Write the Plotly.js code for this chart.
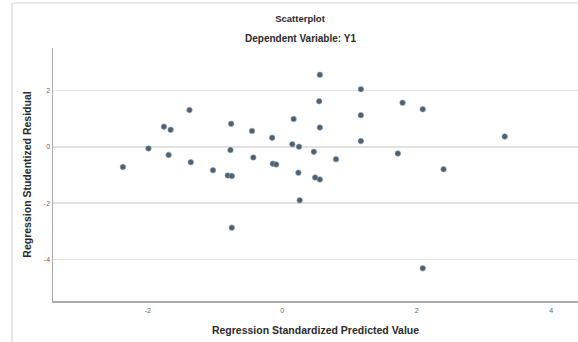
<!DOCTYPE html>
<html>
<head>
<meta charset="utf-8">
<script src="https://cdn.plot.ly/plotly-3.0.1.min.js"></script>
<style>html,body{margin:0;padding:0;background:#fff;}#chart{width:578px;height:342px;}</style>
</head>
<body>
<div id="chart"></div>
<script>
// Regression Standardized Predicted Value
var predicted = [-2.37, -1.99, -1.76, -1.66, -1.69, -1.38, -1.36, -1.03, -0.81, -0.75,
                 -0.76, -0.77, -0.75, -0.45, -0.43, -0.15, -0.14, -0.09, 0.17, 0.15,
                 0.25, 0.24, 0.26, 0.47, 0.49, 0.56, 0.56, 0.55, 0.56, 0.80,
                 1.17, 1.17, 1.17, 1.72, 1.79, 2.09, 2.09, 2.40, 3.31];
// Regression Studentized Residual
var residual = [-0.72, -0.06, 0.71, 0.60, -0.29, 1.30, -0.55, -0.83, -1.02, -1.04,
                0.81, -0.12, -2.87, 0.56, -0.38, 0.32, -0.60, -0.63, 0.98, 0.09,
                0.00, -0.92, -1.90, -0.18, -1.09, -1.16, 2.55, 1.61, 0.68, -0.44,
                2.04, 1.12, 0.20, -0.24, 1.56, 1.33, -4.31, -0.80, 0.36];
var xTicks = [-2, 0, 2, 4];
var yTicks = [-4, -2, 0, 2];

var trace = {
  type: 'scatter', mode: 'markers',
  x: predicted, y: residual,
  marker: {color: '#52606c', size: 5.5, line: {width: 0.6, color: '#8298ac'}},
  hoverinfo: 'x+y'
};

var tickFont = {family: 'Liberation Sans, Arial, sans-serif', size: 7, color: '#666'};
var titleFont = {family: 'Liberation Sans, Arial, sans-serif', size: 10.5, color: '#2a2a2a', weight: 'bold'};

var layout = {
  width: 578, height: 342,
  margin: {l: 53, r: 0, t: 48, b: 41},
  paper_bgcolor: '#fff', plot_bgcolor: '#fff',
  showlegend: false,
  title: {
    text: 'Scatterplot',
    font: {family: 'Liberation Sans, Arial, sans-serif', size: 9.5, color: '#2a2a2a', weight: 'bold'},
    x: 300/578, xanchor: 'center', xref: 'container',
    y: 1 - 19/342, yanchor: 'middle', yref: 'container'
  },
  xaxis: {
    range: [-3.41, 4.40],
    tickvals: xTicks, ticktext: xTicks.map(String),
    tickfont: tickFont, ticks: '', ticklabelstandoff: 2,
    showgrid: false, zeroline: false,
    showline: true, linecolor: '#aaaaaa', linewidth: 1.5, mirror: false,
    title: {text: 'Regression Standardized Predicted Value', font: titleFont, standoff: 13}
  },
  yaxis: {
    range: [-5.47, 3.50],
    tickvals: yTicks, ticktext: yTicks.map(String),
    tickfont: tickFont, ticks: '', ticklabelstandoff: 0,
    showgrid: true, gridcolor: '#e2e2e2', gridwidth: 1.6,
    zeroline: false,
    showline: true, linecolor: '#aaaaaa', linewidth: 1.5, mirror: false,
    title: {text: 'Regression Studentized Residual', font: titleFont, standoff: 10}
  },
  annotations: [{
    text: 'Dependent Variable: Y1',
    xref: 'paper', yref: 'paper',
    x: (300 - 53) / 525, y: (301 - 38) / 253,
    xanchor: 'center', yanchor: 'middle', showarrow: false,
    font: {family: 'Liberation Sans, Arial, sans-serif', size: 10, color: '#2a2a2a', weight: 'bold'}
  }],
  shapes: [
    {type: 'line', xref: 'paper', yref: 'paper',
     x0: (12 - 53) / 525, x1: 1.05, y0: (301 - 3) / 253, y1: (301 - 3) / 253,
     line: {color: '#d6d6d6', width: 1.2}},
    {type: 'line', xref: 'paper', yref: 'paper',
     x0: (12 - 53) / 525, x1: (12 - 53) / 525, y0: (301 - 3) / 253, y1: (301 - 345) / 253,
     line: {color: '#d6d6d6', width: 1.2}}
  ]
};

Plotly.newPlot('chart', [trace], layout, {staticPlot: true, displayModeBar: false});
</script>
</body>
</html>
